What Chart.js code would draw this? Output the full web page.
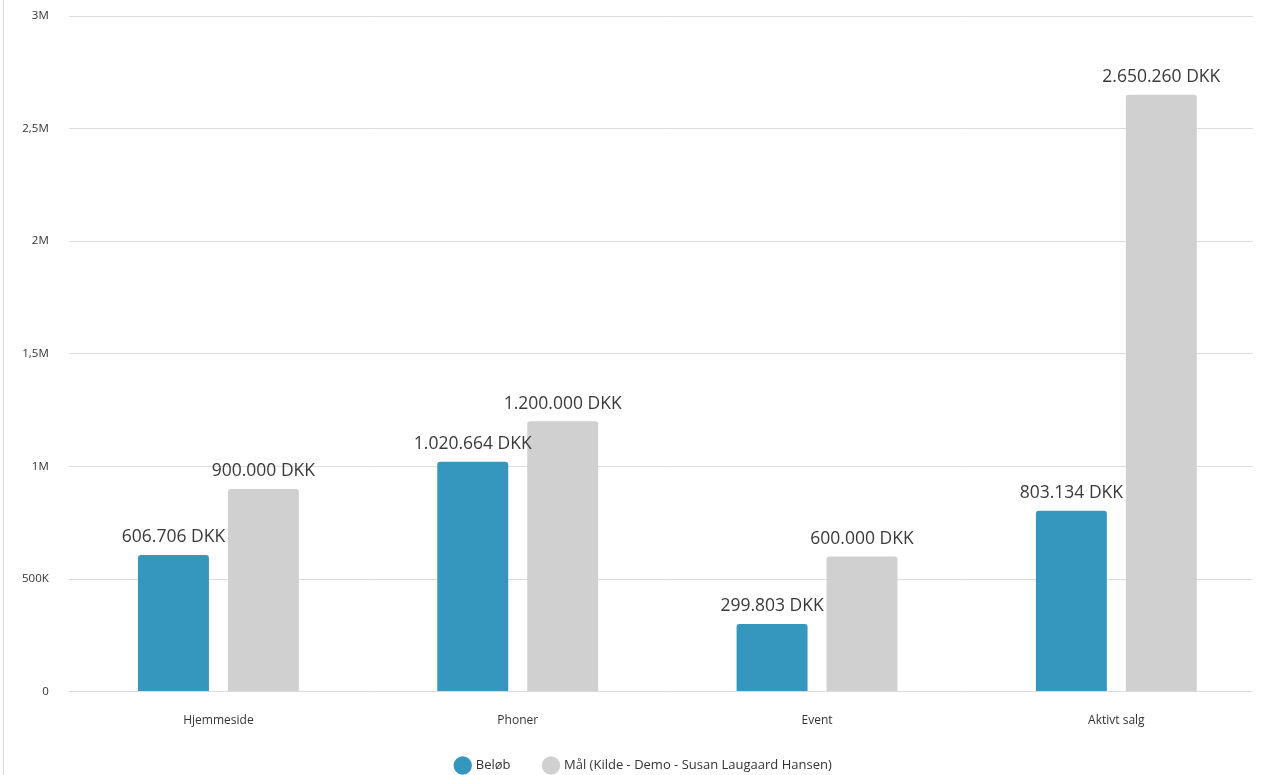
<!DOCTYPE html>
<html>
<head>
<meta charset="utf-8">
<script src="https://cdn.jsdelivr.net/npm/chart.js@4"></script>
<style>
  html, body { margin: 0; padding: 0; background: #fff; }
  #wrap { position: absolute; left: 0; top: 0; width: 1266px; height: 775px; }
  #edge { position: absolute; left: 3px; top: 0; width: 1px; height: 775px; background: #d6d6d6; }
</style>
</head>
<body>
<div id="wrap">
  <div id="edge"></div>
  <canvas id="chart" width="1266" height="775"></canvas>
</div>
<script>
const categories = ["Hjemmeside", "Phoner", "Event", "Aktivt salg"];
const belob = [606706, 1020664, 299803, 803134];
const maal = [900000, 1200000, 600000, 2650260];
const seriesNames = ["Beløb", "Mål (Kilde - Demo - Susan Laugaard Hansen)"];
const seriesColors = ["#3596be", "#d0d0d0"];

const fontFamily = "'Open Sans', 'Noto Sans', sans-serif";

const dotted = (v) => String(Math.round(v)).replace(/\B(?=(\d{3})+(?!\d))/g, ".");

const shortTick = (v) => {
    if (v === 0) return "0";
    if (v >= 1000000) return String(v / 1000000).replace(".", ",") + "M";
    return String(v / 1000).replace(".", ",") + "K";
};

// amounts over each bar
const valueLabels = {
    id: "valueLabels",
    afterDatasetsDraw(chart) {
        const ctx = chart.ctx;
        ctx.save();
        ctx.font = "17.5px " + fontFamily;
        ctx.fillStyle = "#3a3a3a";
        ctx.textAlign = "center";
        ctx.textBaseline = "bottom";
        chart.data.datasets.forEach((ds, i) => {
            chart.getDatasetMeta(i).data.forEach((bar, j) => {
                ctx.fillText(dotted(ds.data[j]) + " DKK", bar.x, bar.y - 9);
            });
        });
        ctx.restore();
    }
};

// the gridlines stop a little before the plot's right edge
const gridTail = {
    id: "gridTail",
    beforeDatasetsDraw(chart) {
        const a = chart.chartArea;
        const ctx = chart.ctx;
        ctx.save();
        ctx.fillStyle = "#fff";
        ctx.fillRect(a.right - 13, a.top - 2, 13, a.bottom - a.top + 4);
        ctx.restore();
    }
};

// wide gap between legend items, but keep the legend low and thin
const legendTweak = {
    id: "legendTweak",
    beforeInit(chart) {
        const lg = chart.legend;
        const fit = lg.fit.bind(lg);
        const draw = lg.draw.bind(lg);
        lg.fit = function () { fit(); this.height -= 32; };
        lg.draw = function (area) { this.top -= 25; draw(area); this.top += 25; };
    }
};

Chart.defaults.font.family = fontFamily;
Chart.defaults.color = "#333";

new Chart(document.getElementById("chart"), {
    type: "bar",
    data: {
        labels: categories,
        datasets: [
            { label: seriesNames[0], data: belob, backgroundColor: seriesColors[0] },
            { label: seriesNames[1], data: maal, backgroundColor: seriesColors[1] }
        ]
    },
    options: {
        responsive: false,
        animation: false,
        layout: { padding: { top: 16, right: 0, left: 22, bottom: 0 } },
        datasets: {
            bar: { categoryPercentage: 0.601, barPercentage: 0.789, borderRadius: { topLeft: 3, topRight: 3 }, borderSkipped: "bottom" }
        },
        scales: {
            x: {
                grid: { display: false, drawTicks: false },
                border: { display: false },
                ticks: { font: { size: 12 }, color: "#333", padding: 22 }
            },
            y: {
                min: 0,
                max: 3000000,
                ticks: { stepSize: 500000, callback: (v) => shortTick(v), font: { size: 11.5 }, color: "#333", padding: 0 },
                grid: { color: "#dcdcdc", drawTicks: true, tickLength: 20, tickColor: "rgba(0,0,0,0)" },
                border: { display: false }
            }
        },
        plugins: {
            legend: {
                position: "bottom",
                labels: { usePointStyle: true, pointStyle: "circle", boxWidth: 13, boxHeight: 13, font: { size: 13 }, color: "#333", padding: 34 }
            },
            tooltip: { enabled: false }
        }
    },
    plugins: [valueLabels, gridTail, legendTweak]
});
</script>
</body>
</html>
